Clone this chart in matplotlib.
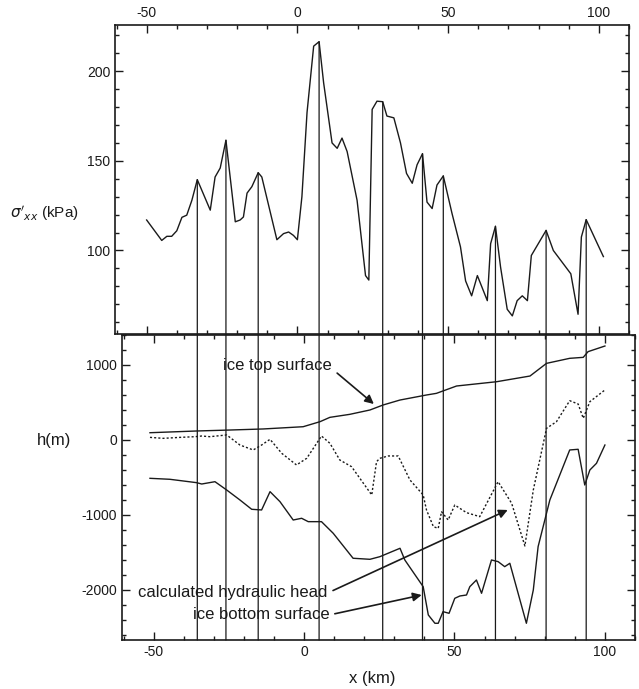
import numpy as np
import matplotlib
matplotlib.use("Agg")
import matplotlib.pyplot as plt
from matplotlib import transforms
from matplotlib.patches import ConnectionPatch
from matplotlib.ticker import MultipleLocator

plt.rcParams['font.family'] = ['Liberation Sans', 'DejaVu Sans']
plt.rcParams['axes.unicode_minus'] = False

# top panel: sigma'_xx along the flow line
sig_x = [-50.0, -45.0, -43.3, -41.7, -40.0, -38.3, -36.7, -35.0, -33.2, -28.9, -27.3, -25.6,
         -23.7, -20.6, -19.0, -17.9, -16.7, -15.1, -13.0, -11.8, -6.8, -4.6, -2.9, -1.3,
         0.0, 1.5, 3.2, 5.4, 7.2, 8.7, 11.5, 13.2, 14.8, 16.5, 19.8, 22.6, 23.7, 24.8,
         26.4, 28.3, 29.7, 32.0, 34.2, 36.2, 38.1, 39.7, 41.5, 43.0, 44.7, 46.3, 48.4,
         51.3, 54.1, 55.8, 57.8, 59.7, 63.0, 64.1, 65.7, 67.4, 69.6, 71.3, 72.9, 74.6,
         76.3, 77.6, 82.5, 84.9, 90.7, 93.1, 94.2, 95.8, 99.5, 101.5]
sig_v = [117, 105.6, 107.9, 107.9, 111, 118.5, 119.7, 128, 139.5, 122.5, 141, 146,
         161.5, 116, 117, 118.7, 132, 135.6, 143.4, 141, 106, 109.4, 110.3, 108.4,
         106, 130, 177, 214, 216.5, 193.6, 160, 157, 162.7, 155.2, 128, 86, 83.5, 178.7,
         183.3, 183, 175, 174, 160, 143, 137.5, 147.8, 154, 127, 123.4, 136.5, 141.6,
         120.6, 102, 83, 74.7, 86, 72, 103.8, 113.5, 90.7, 67.2, 63.5, 72, 74.7,
         72, 97.2, 111.2, 100, 87, 64.4, 107.5, 117.2, 103.8, 96.6]

# bottom panel
top_x = [-51.2, -35.7, -24.6, -13.6, -0.3, 5.3, 8.6, 15.2, 21.9, 26.3, 31.9, 40.7, 44.0,
         50.7, 64.0, 75.1, 80.6, 88.3, 92.8, 94.4, 100.0]
top_h = [97, 120, 133, 147, 177, 244, 302, 342, 400, 467, 533, 600, 622,
         720, 777, 853, 1022, 1089, 1102, 1178, 1253]

head_x = [-51.2, -46.8, -41.2, -36.2, -34.0, -31.3, -25.7, -21.3, -16.9, -14.1, -11.3,
          -7.4, -2.5, 0.9, 5.8, 8.6, 11.9, 15.8, 22.5, 24.1, 25.2, 28.0, 31.3, 35.2,
          39.6, 40.7, 43.0, 44.6, 45.7, 47.9, 50.1, 54.0, 58.4, 64.5, 69.0, 73.4, 76.2,
          80.6, 83.9, 88.3, 91.1, 92.8, 95.0, 100.0]
head_h = [35, 22, 35, 44, 53, 44, 67, -67, -133, -67, 9,
          -178, -333, -244, 53, -44, -267, -356, -733, -289, -244, -213, -213, -533,
          -733, -933, -1156, -1178, -956, -1067, -867, -969, -1022, -556, -844, -1413, -667,
          156, 244, 524, 480, 289, 511, 667]

bot_x = [-51.2, -44.6, -35.7, -34.0, -29.6, -25.7, -21.3, -17.4, -14.1, -11.3, -8.0,
         -3.6, -0.8, 1.4, 5.8, 9.7, 16.3, 21.9, 25.2, 31.9, 33.5, 39.6, 40.2, 41.3,
         43.5, 44.6, 46.2, 48.2, 50.1, 51.8, 54.0, 55.1, 57.3, 59.0, 62.3, 64.5, 66.7,
         68.4, 73.9, 76.2, 77.8, 81.7, 88.3, 91.1, 93.3, 95.0, 97.2, 100.0]
bot_h = [-511, -524, -569, -587, -556, -667, -800, -924, -933, -689, -822,
         -1067, -1044, -1089, -1089, -1244, -1577, -1591, -1556, -1444, -1600, -1956, -2089, -2333,
         -2444, -2444, -2289, -2311, -2111, -2080, -2067, -1956, -1867, -2044, -1600, -1622, -1689,
         -1644, -2444, -2000, -1422, -800, -133, -124, -600, -400, -311, -67]

# stress peaks linked down to the bed
vline_x = [-33.2, -23.7, -13.0, 7.2, 28.3, 41.5, 48.4, 65.7, 82.5, 95.8]

W, H = 639, 689
fig = plt.figure(figsize=(W / 100, H / 100), dpi=100)
ax1 = fig.add_axes([115 / W, (H - 334) / H, 514 / W, 309 / H])
ax2 = fig.add_axes([122 / W, (H - 640) / H, 513 / W, 305 / H])

ink = '#1a1a1a'
ax1.plot(sig_x, sig_v, color=ink, lw=1.0)
ax2.plot(top_x, top_h, color=ink, lw=1.0)
ax2.plot(head_x, head_h, color=ink, lw=1.0, dashes=(1.5, 1.5))
ax2.plot(bot_x, bot_h, color=ink, lw=1.0)

ax1.set_xlim(-60.5, 110)
ax2.set_xlim(-60.5, 110)
ax1.set_ylim(53.4, 225.8)
ax2.set_ylim(-2667, 1400)

for ax in (ax1, ax2):
    ax.xaxis.set_major_locator(MultipleLocator(50))
    ax.xaxis.set_minor_locator(MultipleLocator(10))
    ax.tick_params(which='both', direction='in', top=True, right=True,
                   labelsize=10, colors=ink, width=1.0)
    ax.tick_params(which='major', length=6)
    ax.tick_params(which='minor', length=3)
    for s in ax.spines.values():
        s.set_linewidth(1.2)
        s.set_color(ink)

ax1.yaxis.set_major_locator(MultipleLocator(50))
ax1.yaxis.set_minor_locator(MultipleLocator(10))
ax1.tick_params(labeltop=True, labelbottom=False)
ax2.yaxis.set_major_locator(MultipleLocator(1000))
ax2.yaxis.set_minor_locator(MultipleLocator(200))

# vertical links from top-panel peaks to bottom axis
blend = transforms.blended_transform_factory(ax1.transData, ax2.transAxes)
for xv in vline_x:
    pk = np.interp(xv, sig_x, sig_v)
    con = ConnectionPatch(xyA=(xv, pk), coordsA=ax1.transData,
                          xyB=(xv, 0), coordsB=blend, color=ink, lw=0.9)
    fig.add_artist(con)

arr = dict(arrowstyle='-|>', color=ink, lw=1.2, mutation_scale=13, shrinkA=2, shrinkB=0)
ax2.annotate('ice top surface', xy=(23.2, 480), xytext=(-8.7, 987),
             ha='center', va='center', fontsize=12, color=ink,
             arrowprops=dict(arr, relpos=(1.0, 0.3)))
ax2.annotate('calculated hydraulic head', xy=(67.7, -933), xytext=(-23.6, -2040),
             ha='center', va='center', fontsize=12, color=ink,
             arrowprops=dict(arr, relpos=(1.0, 0.5)))
ax2.annotate('ice bottom surface', xy=(39.1, -2067), xytext=(-14.3, -2333),
             ha='center', va='center', fontsize=12, color=ink,
             arrowprops=dict(arr, relpos=(1.0, 0.5)))

fig.text(44 / W, 1 - 213 / H, r"$\sigma'_{xx}$ (kPa)", ha='center', va='center',
         fontsize=11, color=ink)
fig.text(54 / W, 1 - 440 / H, 'h(m)', ha='center', va='center', fontsize=12, color=ink)
fig.text(372 / W, 1 - 678 / H, 'x (km)', ha='center', va='center', fontsize=12, color=ink)

fig.savefig('out.png', dpi=100)
